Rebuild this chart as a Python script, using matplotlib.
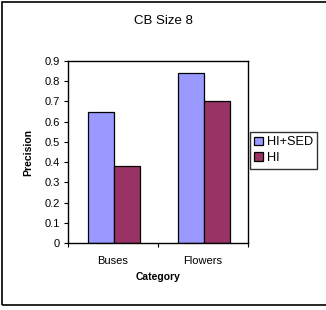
import matplotlib as mpl
import matplotlib.pyplot as plt
import numpy as np
from matplotlib.patches import Rectangle

mpl.rcParams.update({
    "font.family": ["Liberation Sans", "DejaVu Sans"],
    "axes.linewidth": 1.0,
})

categories = ["Buses", "Flowers"]
series = ["HI+SED", "HI"]
hi_sed = [0.65, 0.84]
hi = [0.38, 0.70]
colors = ["#9999FF", "#993366"]

W, H = 326, 310
fig = plt.figure(figsize=(W / 100, H / 100), dpi=100)

# outer chart-area border (right edge falls outside the image)
fig.patches.append(Rectangle((1.5 / W, 5.5 / H), 330 / W, (H - 7) / H,
                             transform=fig.transFigure, fill=False,
                             edgecolor="black", linewidth=1.2))

ax = fig.add_axes([68 / W, (H - 243) / H, 180 / W, 182 / H])
x = np.arange(len(categories))
bw = 26 / 90
ax.bar(x + 0.22, hi_sed, width=bw, align="edge", color=colors[0],
       edgecolor="black", linewidth=0.9, label=series[0])
ax.bar(x + 0.22 + bw, hi, width=bw, align="edge", color=colors[1],
       edgecolor="black", linewidth=0.9, label=series[1])

ax.set_xlim(0, 2)
ax.set_ylim(0, 0.9)
ax.set_yticks(np.arange(0, 0.91, 0.1))
ax.set_yticklabels(["0"] + [f"{v:.1f}" for v in np.arange(0.1, 0.91, 0.1)])
ax.set_xticks([0, 1, 2])
ax.set_xticklabels([])
ax.set_xticks(x + 0.5, minor=True)
ax.set_xticklabels(categories, minor=True)
ax.tick_params(axis="both", which="major", direction="out", length=3,
               width=0.8, labelsize=8)
ax.tick_params(axis="y", pad=3)
ax.tick_params(axis="x", which="minor", length=0, pad=9, labelsize=8)

ax.set_ylabel("Precision", fontsize=7.5, fontweight="bold", labelpad=8)
ax.set_xlabel("Category", fontsize=7.5, fontweight="bold", labelpad=5)

fig.text(163 / W, 1 - 21 / H, "CB Size 8", ha="center", va="center",
         fontsize=9.5)

leg = fig.legend(loc="upper left", bbox_to_anchor=(249.5 / W, 1 - 132 / H),
                 fontsize=9.2, frameon=True, fancybox=False,
                 handlelength=0.7, handleheight=0.7, handletextpad=0.3,
                 borderpad=0.35, labelspacing=0.3, borderaxespad=0)
leg.get_frame().set_edgecolor("black")
leg.get_frame().set_linewidth(1.0)

fig.savefig("out.png", dpi=100)
